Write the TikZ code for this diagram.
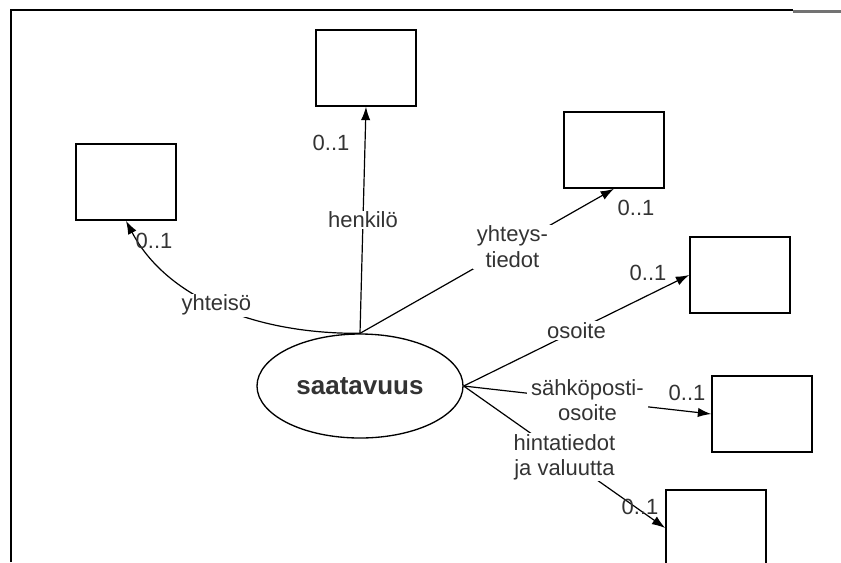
\documentclass[tikz,border=0pt]{standalone}
\usepackage{fontspec}
\setmainfont{Liberation Sans}
\usepackage{tikz}
\usetikzlibrary{shapes.geometric, arrows.meta}
\tikzset{ent/.style={draw, line width=1.2pt, minimum width=75pt, minimum height=57pt, inner sep=0pt},
	rel/.style={fill=white, inner xsep=3pt, inner ysep=1pt, align=center, font=\fontsize{16.5}{19}\selectfont, text=black!80},
	mult/.style={inner sep=0pt, font=\fontsize{16.5}{19}\selectfont, text=black!80}}

\begin{document}
\begin{tikzpicture}[x=0.75pt, y=-0.75pt, line width=0.9pt, >={Latex[length=10pt,width=7pt]}]
	\useasboundingbox (0,0) rectangle (841,562);
	% frame
	\draw [line width=1.8pt] (11,562) -- (11,10) -- (793,10);
	\draw [line width=1.8pt, black!55] (793,11.5) -- (841,11.5);
	% entity
	\node [ellipse, draw, line width=1pt, minimum width=154.5pt, minimum height=78pt, font=\fontsize{19.5}{21}\selectfont\bfseries, text=black!80] (saa) at (360,386) {saatavuus};
	% boxes
	\node [ent] (yht) at (126,182) {};
	\node [ent] (hen) at (366,68) {};
	\node [ent] (tie) at (614,150) {};
	\node [ent] (oso) at (740,275) {};
	\node [ent] (spo) at (762,414) {};
	\node [ent] (hin) at (716,528) {};
	% relations
	\draw [->] (saa.north) .. controls (250,334) and (165,295) .. (yht.south) node [rel, pos=0.5] {yhteisö};
	\draw [->] (saa.north) -- (hen.south) node [rel, pos=0.5] {henkilö};
	\draw [->] (saa.north) -- (tie.south) node [rel, pos=0.6] {yhteys-\\tiedot};
	\draw [->] (saa.east) -- (oso.west) node [rel, pos=0.5] {osoite};
	\draw [->] (saa.east) -- (spo.west) node [rel, pos=0.5] {sähköposti-\\osoite};
	\draw [->] (saa.east) -- (hin.west) node [rel, pos=0.5] {hintatiedot\\ja valuutta};
	% multiplicities
	\node [mult] (m1) at (154,241) {0..1};
	\node [mult] (m2) at (331,143) {0..1};
	\node [mult] (m3) at (636,208) {0..1};
	\node [mult] (m4) at (648,273) {0..1};
	\node [mult] (m5) at (687,393) {0..1};
	\node [mult] (m6) at (640,507) {0..1};
\end{tikzpicture}
\end{document}
